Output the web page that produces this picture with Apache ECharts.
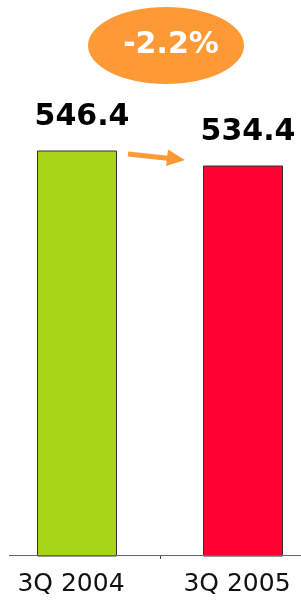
<!DOCTYPE html>
<html style="height: 100%;">
  <head>
    <meta charset="utf-8" />
    <script src="https://cdn.jsdelivr.net/npm/echarts/dist/echarts.min.js"></script>
  </head>
  <body style="height: 100%; margin: 0; background: #fff;">
    <div id="container" style="width: 301px; height: 600px;"></div>
    <script type="text/javascript">
      var categories = ["3Q 2004", "3Q 2005"];
      var values = [546.4, 534.4];
      var barColors = ["#a8d418", "#ff0033"];

      var change = ((values[1] - values[0]) / values[0]) * 100;
      var changeText = (change > 0 ? "+" : "") + change.toFixed(1) + "%";
      var orange = "#fd9a35";

      var myChart = echarts.init(document.getElementById("container"));
      var option = {
        animation: false,
        grid: {
          left: -6,
          width: 332,
          top: 131,
          bottom: 44,
          containLabel: false,
          outerBoundsMode: "none",
        },
        xAxis: {
          type: "category",
          data: categories,
          axisLine: { show: false },
          axisTick: {
            show: true,
            length: 3,
            lineStyle: { color: "#444" },
          },
          axisLabel: {
            color: "#111",
            fontFamily: "DejaVu Sans",
            fontSize: 25,
            margin: 16,
            padding: [0, 12, 0, 0],
          },
        },
        yAxis: {
          type: "value",
          min: 222,
          max: 562,
          show: false,
          splitLine: { show: false },
        },
        graphic: [
          {
            type: "line",
            shape: { x1: 9, y1: 555.5, x2: 301, y2: 555.5 },
            style: { stroke: "#666", lineWidth: 1 },
            z: 10,
          },
          {
            type: "ellipse",
            shape: { cx: 166, cy: 45.5, rx: 78, ry: 38.5 },
            style: { fill: orange },
          },
          {
            type: "text",
            x: 171,
            y: 45,
            style: {
              text: changeText,
              fill: "#fff",
              font: "bold 30px 'DejaVu Sans'",
              align: "center",
              verticalAlign: "middle",
            },
            z: 5,
          },
          {
            type: "line",
            shape: { x1: 128, y1: 154, x2: 170, y2: 158.5 },
            style: { stroke: orange, lineWidth: 5 },
          },
          {
            type: "polygon",
            shape: {
              points: [
                [168, 149.5],
                [185, 160],
                [166, 166],
              ],
            },
            style: { fill: orange },
          },
        ],
        series: [
          {
            type: "bar",
            barWidth: 80,
            data: values.map(function (v, i) {
              return {
                value: v,
                itemStyle: {
                  color: barColors[i],
                  borderColor: "#333",
                  borderWidth: 1,
                },
              };
            }),
            label: {
              show: true,
              position: "top",
              distance: 18,
              offset: [5, 0],
              color: "#000",
              fontFamily: "DejaVu Sans",
              fontWeight: "bold",
              fontSize: 30,
              formatter: function (p) {
                return p.value.toFixed(1);
              },
            },
          },
        ],
      };
      myChart.setOption(option);
    </script>
  </body>
</html>
